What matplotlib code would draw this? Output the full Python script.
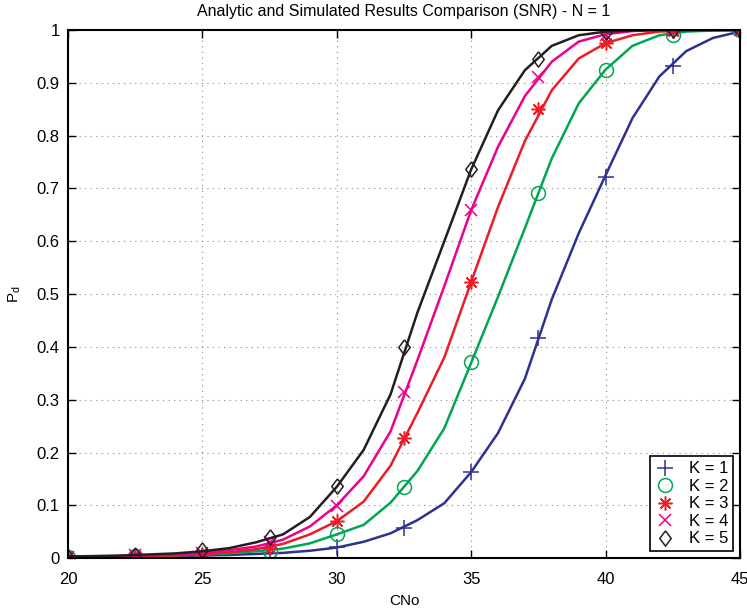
import numpy as np
import matplotlib
matplotlib.use('Agg')
import matplotlib.pyplot as plt

plt.rcParams['font.family'] = ['Liberation Sans', 'DejaVu Sans']

# analytic curves, 1 dB steps
cno = list(range(20, 46))
pd_k1 = [0.002, 0.002, 0.003, 0.003, 0.004, 0.005, 0.006, 0.008, 0.010, 0.014,
         0.020, 0.031, 0.047, 0.072, 0.104, 0.163, 0.237, 0.340, 0.490, 0.615,
         0.725, 0.833, 0.912, 0.960, 0.985, 0.997]
pd_k2 = [0.002, 0.002, 0.003, 0.004, 0.005, 0.007, 0.009, 0.013, 0.018, 0.028,
         0.045, 0.063, 0.105, 0.165, 0.246, 0.370, 0.495, 0.625, 0.757, 0.861,
         0.925, 0.970, 0.990, 0.997, 0.999, 1.000]
pd_k3 = [0.002, 0.003, 0.003, 0.004, 0.005, 0.007, 0.011, 0.017, 0.027, 0.045,
         0.070, 0.107, 0.175, 0.275, 0.380, 0.523, 0.665, 0.790, 0.886, 0.946,
         0.975, 0.990, 0.997, 0.999, 1.000, 1.000]
pd_k4 = [0.003, 0.003, 0.004, 0.005, 0.007, 0.010, 0.015, 0.022, 0.035, 0.060,
         0.100, 0.155, 0.240, 0.375, 0.515, 0.659, 0.779, 0.875, 0.940, 0.978,
         0.992, 0.998, 1.000, 1.000, 1.000, 1.000]
pd_k5 = [0.003, 0.004, 0.005, 0.007, 0.009, 0.013, 0.019, 0.030, 0.045, 0.078,
         0.135, 0.205, 0.310, 0.465, 0.600, 0.736, 0.848, 0.924, 0.970, 0.990,
         0.997, 0.999, 1.000, 1.000, 1.000, 1.000]

# simulated points, 2.5 dB steps
cno_sim = [20, 22.5, 25, 27.5, 30, 32.5, 35, 37.5, 40, 42.5, 45]
sim_k1 = [0.002, 0.003, 0.004, 0.010, 0.021, 0.057, 0.164, 0.416, 0.722, 0.932, 0.998]
sim_k2 = [0.002, 0.004, 0.003, 0.014, 0.046, 0.135, 0.371, 0.692, 0.925, 0.990, 1.000]
sim_k3 = [0.003, 0.005, 0.008, 0.020, 0.071, 0.227, 0.523, 0.851, 0.975, 0.998, 1.000]
sim_k4 = [0.003, 0.006, 0.010, 0.030, 0.099, 0.314, 0.659, 0.911, 0.991, 1.000, 1.000]
sim_k5 = [0.003, 0.006, 0.015, 0.040, 0.137, 0.399, 0.737, 0.945, 0.997, 1.000, 1.000]

labels = ['K = 1', 'K = 2', 'K = 3', 'K = 4', 'K = 5']
colors = ['#2E3192', '#00A651', '#ED1C24', '#EC008C', '#231F20']

# matlab-like markers: plus, circle, asterisk, cross, tall diamond
diamond = [(0, 1), (0.75, 0), (0, -1), (-0.75, 0), (0, 1)]
markers = ['+', 'o', (8, 2, 0), 'x', diamond]
sizes = [12, 10, 10, 9, 11]

fig = plt.figure(figsize=(7.47, 6.12), dpi=100)
ax = fig.add_axes([0.091, 0.088, 0.8996, 0.863])

curves = [pd_k1, pd_k2, pd_k3, pd_k4, pd_k5]
sims = [sim_k1, sim_k2, sim_k3, sim_k4, sim_k5]
for c, s, col, m, ms, lab in zip(curves, sims, colors, markers, sizes, labels):
    ax.plot(cno, c, color=col, lw=1.8)
    ax.plot(cno_sim, s, ls='none', marker=m, color=col, ms=ms,
            mfc='none', mec=col, mew=1.1, label=lab)

ax.set_xlim(20, 45)
ax.set_ylim(0, 1)
ax.set_xticks([20, 25, 30, 35, 40, 45])
ax.set_yticks(np.arange(0, 1.01, 0.1))
ax.set_yticklabels(['0', '0.1', '0.2', '0.3', '0.4', '0.5', '0.6', '0.7', '0.8', '0.9', '1'])
ax.grid(True, ls=(0, (1, 4)), color='#888888', lw=0.8)
ax.tick_params(direction='in', length=6, width=1, top=True, right=True, labelsize=12)
ax.tick_params(axis='x', pad=10)
ax.tick_params(axis='y', pad=6)
for sp in ax.spines.values():
    sp.set_linewidth(1.5)

ax.set_title('Analytic and Simulated Results Comparison (SNR) - N = 1', fontsize=11.5, pad=10)
ax.set_xlabel('CNo', fontsize=11, labelpad=5)
ax.set_ylabel('P$_\\mathregular{d}$', fontsize=11, labelpad=10)

leg = ax.legend(loc='lower right', fontsize=12, fancybox=False, framealpha=1,
                edgecolor='black', borderaxespad=0.4, handlelength=1.2,
                labelspacing=0.15, borderpad=0.3)
leg.get_frame().set_linewidth(1.2)

fig.savefig('out.png', dpi=100)
